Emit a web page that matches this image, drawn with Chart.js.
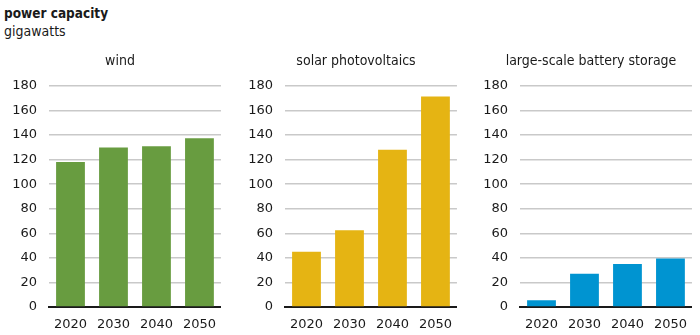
<!DOCTYPE html>
<html>
<head>
<meta charset="utf-8">
<script src="https://cdn.jsdelivr.net/npm/chart.js@4"></script>
<style>
  html, body { margin: 0; padding: 0; background: #fff; }
  body { width: 700px; height: 335px; position: relative; overflow: hidden; font-family: "DejaVu Sans Condensed", "DejaVu Sans", sans-serif; font-stretch: condensed; color: #1a1a1a; }
  .title { position: absolute; left: 4px; top: 5px; font-weight: bold; font-size: 13.5px; line-height: normal; }
  .subtitle { position: absolute; left: 4px; top: 23px; font-size: 14px; line-height: normal; }
  .ptitle { position: absolute; top: 52px; width: 200px; text-align: center; font-size: 14px; line-height: normal; }
  .panel { position: absolute; top: 0; height: 335px; }
</style>
</head>
<body>
<div class="title">power capacity</div>
<div class="subtitle">gigawatts</div>

<script>
const categories = ["2020", "2030", "2040", "2050"];
const panelTitles = ["wind", "solar photovoltaics", "large-scale battery storage"];
const windValues = [118, 130, 131, 137.5];
const solarValues = [45, 62.5, 128, 171.5];
const batteryValues = [5.5, 27, 35, 39.5];
const yTicks = [0, 20, 40, 60, 80, 100, 120, 140, 160, 180];

const panels = [
  { title: panelTitles[0], values: windValues, color: "#689c40", left: 0 },
  { title: panelTitles[1], values: solarValues, color: "#e5b413", left: 236 },
  { title: panelTitles[2], values: batteryValues, color: "#0094d1", left: 471 }
];

const Y_AXIS_W = 49;
const CANVAS_W = 226;
panels.forEach(p => {
  const div = document.createElement("div");
  div.className = "panel";
  div.style.left = p.left + "px";
  div.style.width = CANVAS_W + "px";
  const cv = document.createElement("canvas");
  cv.width = CANVAS_W; cv.height = 335;
  div.appendChild(cv);
  document.body.appendChild(div);

  const t = document.createElement("div");
  t.className = "ptitle";
  t.style.left = (p.left + 20) + "px";
  t.textContent = p.title;
  document.body.appendChild(t);

  new Chart(cv, {
    type: "bar",
    data: {
      labels: categories,
      datasets: [{ data: p.values, backgroundColor: p.color, borderWidth: 0, barPercentage: 0.67, categoryPercentage: 1 }]
    },
    options: {
      responsive: false,
      animation: false,
      devicePixelRatio: 1,
      layout: { padding: { top: 86, bottom: 0, left: 0, right: 0 } },
      plugins: { legend: { display: false }, tooltip: { enabled: false }, title: { display: false } },
      scales: {
        x: {
          grid: { display: false, drawTicks: false },
          border: { display: true, color: "#1a1a1a", width: 2 },
          ticks: { color: "#1a1a1a", font: { family: "DejaVu Sans", size: 13 }, padding: 10, maxRotation: 0 },
          afterFit: s => { s.height = 28; }
        },
        y: {
          min: 0, max: 180,
          afterBuildTicks: s => { s.ticks = yTicks.map(v => ({ value: v })); },
          grid: { color: c => c.tick && c.tick.value === 0 ? "rgba(0,0,0,0)" : "#c9c9c9", lineWidth: 1.5, drawTicks: false },
          border: { display: false },
          ticks: { color: "#1a1a1a", font: { family: "DejaVu Sans", size: 13 }, padding: 12 },
          afterFit: s => { s.width = Y_AXIS_W; }
        }
      }
    }
  });
});
</script>
</body>
</html>
